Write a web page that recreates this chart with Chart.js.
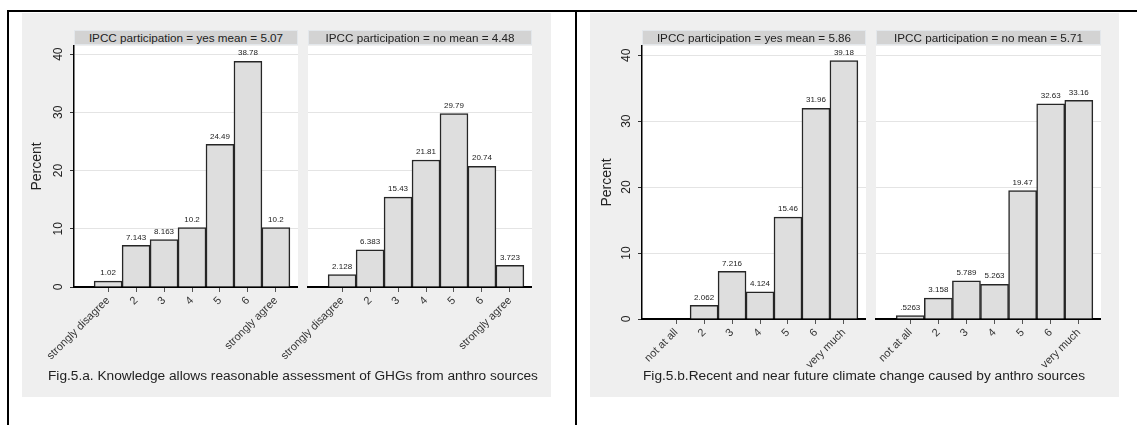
<!DOCTYPE html>
<html>
<head>
<meta charset="utf-8">
<script src="https://cdn.jsdelivr.net/npm/chart.js@4.4.0/dist/chart.umd.min.js"></script>
<style>
  body { margin: 0; width: 1137px; height: 425px; background: #fff; position: relative; overflow: hidden;
         font-family: "Liberation Sans", Arial, sans-serif; }
  .line { position: absolute; background: #000; }
  .panel { position: absolute; background: #efefef; }
  .strip { position: absolute; background: #d3d3d3; border: 1px solid #e3e7eb; box-sizing: border-box;
           text-align: center; font-size: 11.7px; line-height: 13px; color: #222; white-space: nowrap; }
  .caption { position: absolute; font-size: 13.7px; line-height: 16px; color: #222; white-space: nowrap; }
  canvas { position: absolute; }
</style>
</head>
<body>
<div class="line" style="left:7px; top:10px; width:1130px; height:2px;"></div>
<div class="line" style="left:7px; top:10px; width:2px; height:415px;"></div>
<div class="line" style="left:575px; top:10px; width:2px; height:415px;"></div>

<div class="panel" style="left:22px; top:13px; width:529px; height:384px;"></div>
<div class="panel" style="left:590px; top:13px; width:529px; height:384px;"></div>

<canvas id="knowYes" width="276" height="384" style="left:22px; top:13px;"></canvas>
<canvas id="knowNo" width="282" height="384" style="left:250px; top:13px;"></canvas>
<canvas id="climYes" width="276" height="384" style="left:590px; top:13px;"></canvas>
<canvas id="climNo" width="271" height="384" style="left:830px; top:13px;"></canvas>

<div class="strip" style="left:74px; top:30px; width:224px; height:15px;">IPCC participation = yes mean = 5.07</div>
<div class="strip" style="left:308px; top:30px; width:224px; height:15px;">IPCC participation = no mean = 4.48</div>
<div class="strip" style="left:642px; top:30px; width:224px; height:15px;">IPCC participation = yes mean = 5.86</div>
<div class="strip" style="left:876px; top:30px; width:225px; height:15px;">IPCC participation = no mean = 5.71</div>

<div class="caption" style="left:48px; top:368px;">Fig.5.a. Knowledge allows reasonable assessment of GHGs from anthro sources</div>
<div class="caption" style="left:643px; top:368px;">Fig.5.b.Recent and near future climate change caused by anthro sources</div>

<script>
// categorías del eje x
const knowledgeCategories = ['strongly disagree', '2', '3', '4', '5', '6', 'strongly agree'];
const climateCategories   = ['not at all', '2', '3', '4', '5', '6', 'very much'];

// porcentajes por grupo
const knowledgeYes = [1.02, 7.143, 8.163, 10.2, 24.49, 38.78, 10.2];
const knowledgeNo  = [2.128, 6.383, 15.43, 21.81, 29.79, 20.74, 3.723];
const climateYes   = [0, 2.062, 7.216, 4.124, 15.46, 31.96, 39.18];
const climateNo    = [0.5263, 3.158, 5.789, 5.263, 19.47, 32.63, 33.16];

const yTicks = [0, 10, 20, 30, 40];

const FONT = '"Liberation Sans", Arial, sans-serif';

// estilo de Stata: 4 cifras, sin cero inicial
function statFormat(v) {
  return String(parseFloat(v.toPrecision(4))).replace(/^0\./, '.');
}

const plotBackground = {
  id: 'plotBackground',
  beforeDraw(chart) {
    const { ctx, chartArea: a } = chart;
    ctx.save();
    ctx.fillStyle = '#ffffff';
    ctx.fillRect(a.left, a.top, a.right - a.left, a.bottom - a.top);
    ctx.restore();
  },
};

const barValues = {
  id: 'barValues',
  afterDatasetsDraw(chart) {
    const ctx = chart.ctx;
    const meta = chart.getDatasetMeta(0);
    const data = chart.data.datasets[0].data;
    ctx.save();
    ctx.font = `8px ${FONT}`;
    ctx.fillStyle = '#222';
    ctx.textAlign = 'center';
    ctx.textBaseline = 'bottom';
    meta.data.forEach((bar, i) => {
      const v = data[i].y;
      if (!v) return;
      ctx.fillText(statFormat(v), bar.x, bar.y - 4);
    });
    ctx.restore();
  },
};

const yLabels = {
  id: 'yLabels',
  afterDraw(chart, args, opts) {
    if (!opts.show) return;
    const ctx = chart.ctx;
    const scale = chart.scales.y;
    ctx.save();
    ctx.font = `12px ${FONT}`;
    ctx.fillStyle = '#222';
    ctx.textAlign = 'center';
    ctx.textBaseline = 'middle';
    yTicks.forEach(v => {
      ctx.save();
      ctx.translate(scale.right - 15, scale.getPixelForValue(v));
      ctx.rotate(-Math.PI / 2);
      ctx.fillText(String(v), 0, 0);
      ctx.restore();
    });
    ctx.restore();
  },
};

function makeChart(id, categories, values, cfg) {
  const ctx = document.getElementById(id).getContext('2d');
  return new Chart(ctx, {
    type: 'bar',
    data: {
      datasets: [{
        data: values.map((v, i) => ({ x: i + 1, y: v })),
        backgroundColor: '#dedede',
        borderColor: '#262626',
        borderWidth: 1.5,
        barPercentage: 1,
        categoryPercentage: 1,
      }],
    },
    plugins: [plotBackground, barValues, yLabels],
    options: {
      responsive: false,
      animation: false,
      layout: { padding: { top: 33, left: 0, right: 0, bottom: 0 } },
      plugins: {
        legend: { display: false },
        tooltip: { enabled: false },
        yLabels: { show: cfg.showAxis },
      },
      scales: {
        x: {
          type: 'linear',
          offset: false,
          min: -0.22,
          max: 7.79,
          afterBuildTicks: s => { s.ticks = categories.map((c, i) => ({ value: i + 1 })); },
          afterFit: s => { s.height = cfg.xHeight; },
          ticks: {
            autoSkip: false,
            minRotation: 45,
            maxRotation: 45,
            padding: 2,
            color: '#333',
            font: { size: 11, family: FONT },
            callback: v => categories[v - 1],
          },
          grid: { display: true, offset: false, drawOnChartArea: false, drawTicks: true, tickLength: 5, tickColor: '#555' },
          border: { display: true, color: '#000', width: 2 },
        },
        y: {
          min: 0,
          max: 41.4,
          afterBuildTicks: s => { s.ticks = yTicks.map(v => ({ value: v })); },
          afterFit: s => { s.width = cfg.yWidth; },
          ticks: { display: false },
          title: {
            display: cfg.showAxis,
            text: 'Percent',
            color: '#222',
            font: { size: 14, family: FONT },
            padding: { top: cfg.titlePad || 0, bottom: 0 },
          },
          grid: { color: '#e4e4e4', lineWidth: 1, drawTicks: cfg.showAxis, tickLength: 4, tickColor: '#333' },
          border: { display: cfg.showAxis, color: '#000', width: 1.5 },
        },
      },
    },
  });
}

makeChart('knowYes', knowledgeCategories, knowledgeYes, { showAxis: true,  yWidth: 52, xHeight: 110, titlePad: 7 });
makeChart('knowNo',  knowledgeCategories, knowledgeNo,  { showAxis: false, yWidth: 58, xHeight: 110 });
makeChart('climYes', climateCategories,   climateYes,   { showAxis: true,  yWidth: 52, xHeight: 78, titlePad: 9 });
makeChart('climNo',  climateCategories,   climateNo,    { showAxis: false, yWidth: 46, xHeight: 78 });
</script>
</body>
</html>
